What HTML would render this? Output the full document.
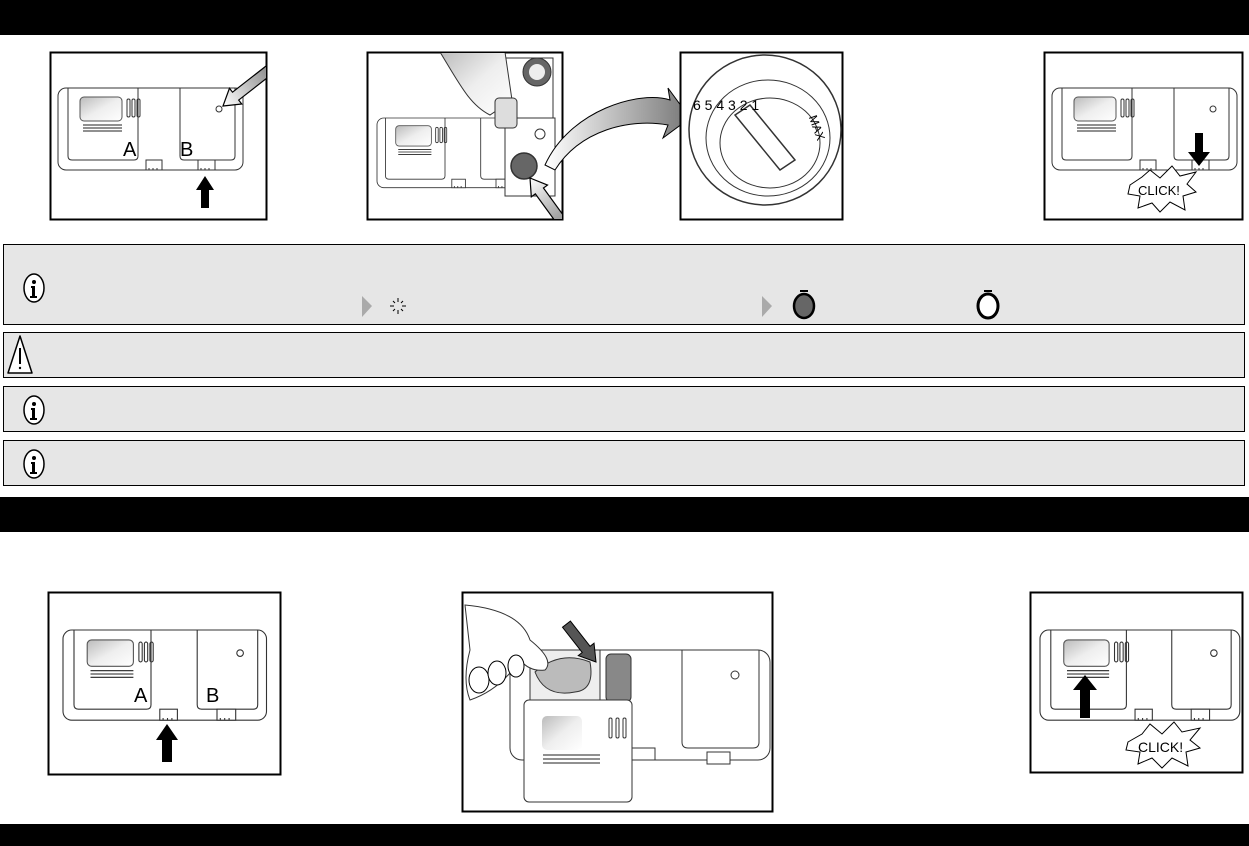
<!DOCTYPE html>
<html><head><meta charset="utf-8"><style>
html,body{margin:0;padding:0;background:#fff;width:1249px;height:846px;overflow:hidden}
svg{display:block}
</style></head><body>
<svg width="1249" height="846" viewBox="0 0 1249 846" xmlns="http://www.w3.org/2000/svg" font-family="Liberation Sans, sans-serif">
<defs>
<linearGradient id="gw" x1="0" y1="0" x2="1" y2="1"><stop offset="0" stop-color="#bbb"/><stop offset="0.5" stop-color="#eee"/><stop offset="1" stop-color="#fff"/></linearGradient>
<linearGradient id="ga" x1="0" y1="0" x2="1" y2="0"><stop offset="0" stop-color="#fff"/><stop offset="1" stop-color="#777"/></linearGradient>
<clipPath id="c1"><rect x="51" y="53" width="215" height="166"/></clipPath>
<clipPath id="c2"><rect x="368" y="53" width="194" height="166"/></clipPath>
<clipPath id="c6"><rect x="463" y="593" width="309" height="218"/></clipPath>
<g id="disp" fill="none" stroke="#333" stroke-width="1">
  <rect x="0" y="0" width="185" height="82" rx="8" fill="#fff"/>
  <path d="M10 0 V68 q0 4 4 4 H76 q4 0 4-4 V0"/>
  <path d="M122 0 V68 q0 4 4 4 H173 q4 0 4-4 V0"/>
  <rect x="22" y="9" width="42" height="24" rx="4" fill="url(#gw)" stroke="#555"/>
  <path d="M25 37 H64 M25 40 H64 M25 43 H64" stroke="#222"/>
  <rect x="69" y="11" width="3" height="18" rx="1.5"/><rect x="74" y="11" width="3" height="18" rx="1.5"/><rect x="79" y="11" width="3" height="18" rx="1.5"/>
  <rect x="88" y="72" width="16" height="10" fill="#fff"/><path d="M91 80v2M95 80v2M99 80v2"/>
  <rect x="140" y="72" width="17" height="10" fill="#fff"/><path d="M143 80v2M147 80v2M151 80v2"/>
  <circle cx="161" cy="21" r="3"/>
</g>
<polygon id="arr" points="0,0 16,-10 16,-5 70,-5 70,5 16,5 16,10" fill="url(#ga)" stroke="#000" stroke-width="1.2"/>
<g id="info"><ellipse cx="0" cy="0" rx="10" ry="14" fill="#fff" stroke="#000" stroke-width="1.5"/><circle cx="0" cy="-6" r="2"/><path d="M-3 -2 H1 V8 H3 V10 H-4 V8 H-2 V0 H-3Z"/></g>
</defs>

<rect x="0" y="0" width="1249" height="35" fill="#000"/>
<rect x="0" y="497" width="1249" height="35" fill="#000"/>
<rect x="0" y="824" width="1249" height="22" fill="#000"/>

<!-- box1 -->
<rect x="50.5" y="52.5" width="216" height="167" fill="#fff" stroke="#000" stroke-width="2"/>
<use href="#disp" x="58" y="88"/>
<text x="123" y="156" font-size="20">A</text><text x="180" y="156" font-size="20">B</text>
<path d="M201 208 V190 H196 L205 176 L214 190 H209 V208Z" fill="#000"/>
<g clip-path="url(#c1)"><use href="#arr" transform="translate(223,106) rotate(-38)"/></g>

<!-- box2 -->
<rect x="367.5" y="52.5" width="195" height="167" fill="#fff" stroke="#000" stroke-width="2"/>
<rect x="500" y="58" width="53" height="70" fill="#fff" stroke="#333"/>
<g transform="translate(377,118) scale(0.85)"><use href="#disp"/></g>
<rect x="505" y="118" width="50" height="78" fill="#fff" stroke="#333"/>
<g clip-path="url(#c2)">
<path d="M440 52 C460 85 470 105 490 115 L512 100 L505 52Z" fill="url(#gw)" stroke="#333"/>
<circle cx="537" cy="72" r="14" fill="#666" stroke="#333"/><circle cx="537" cy="72" r="8" fill="#eee"/>
<rect x="495" y="98" width="22" height="30" rx="4" fill="#ddd" stroke="#333"/>
<circle cx="540" cy="134" r="5" fill="#fff" stroke="#333"/>
<circle cx="524" cy="166" r="13" fill="#666" stroke="#333" stroke-width="1.5"/>
<use href="#arr" transform="translate(530,178) rotate(54)"/>
</g>
<path d="M545 165 C570 110 640 90 670 100 L668 88 L690 118 L663 138 L668 125 C630 118 580 130 555 170Z" fill="url(#ga)" stroke="#000"/>

<!-- box3 -->
<rect x="680.5" y="52.5" width="162" height="167" fill="#fff" stroke="#000" stroke-width="2"/>
<ellipse cx="765" cy="130" rx="76" ry="75" fill="none" stroke="#333" stroke-width="1.5"/>
<ellipse cx="768" cy="138" rx="62" ry="58" fill="none" stroke="#333"/>
<ellipse cx="770" cy="143" rx="50" ry="45" fill="none" stroke="#333"/>
<path d="M735 115 L780 170 L795 160 L750 105Z" fill="#fff" stroke="#333" stroke-width="1.5"/>
<text x="693" y="110" font-size="14">6 5 4 3 2 1</text>
<text x="810" y="125" font-size="12" transform="rotate(70 815 120)">MAX</text>

<!-- box4 -->
<rect x="1044.5" y="52.5" width="198" height="167" fill="#fff" stroke="#000" stroke-width="2"/>
<use href="#disp" x="1052" y="88"/>
<path d="M1195 133 V152 H1188 L1199 166 L1210 152 H1203 V133Z" fill="#000"/>
<path d="M1130 185 L1142 177 L1150 170 L1160 178 L1172 166 L1180 176 L1196 172 L1187 184 L1196 192 L1183 196 L1185 210 L1170 202 L1160 212 L1152 203 L1138 208 L1140 196 L1128 194Z" fill="#fff" stroke="#000"/>
<text x="1138" y="195" font-size="13">CLICK!</text>

<!-- panels -->
<rect x="3.5" y="244.5" width="1241" height="80" fill="#e6e6e6" stroke="#000"/>
<rect x="3.5" y="332.5" width="1241" height="45" fill="#e6e6e6" stroke="#000"/>
<rect x="3.5" y="386.5" width="1241" height="45" fill="#e6e6e6" stroke="#000"/>
<rect x="3.5" y="440.5" width="1241" height="45" fill="#e6e6e6" stroke="#000"/>
<use href="#info" x="34" y="288"/>
<use href="#info" x="34" y="410"/>
<use href="#info" x="34" y="464"/>
<path d="M8 373 L20 336 L32 373Z" fill="#fff" stroke="#000" stroke-width="1.5" stroke-linejoin="round"/>
<path d="M20 348 V364" stroke="#000" stroke-width="2"/><circle cx="20" cy="368" r="1.2"/>
<path d="M362 296 L372 306 L362 317Z" fill="#aaa"/>
<g stroke="#000" stroke-width="1"><path d="M398 298v4M398 310v4M390 306h4M402 306h4M393 301l2 2M403 301l-2 2M393 311l2-2M403 311l-2-2"/></g>
<path d="M762 296 L772 306 L762 317Z" fill="#aaa"/>
<ellipse cx="804" cy="306" rx="10" ry="12" fill="#666" stroke="#000" stroke-width="2.5"/><rect x="800" y="290" width="8" height="2"/>
<ellipse cx="988" cy="306" rx="10" ry="12" fill="#fff" stroke="#000" stroke-width="3"/><rect x="984" y="290" width="8" height="2"/>

<!-- box5 -->
<rect x="48.5" y="592.5" width="232" height="182" fill="#fff" stroke="#000" stroke-width="2"/>
<g transform="translate(63,630) scale(1.1,1.1)"><use href="#disp"/></g>
<text x="134" y="702" font-size="20">A</text><text x="206" y="702" font-size="20">B</text>
<path d="M162 762 V740 H156 L167 724 L178 740 H172 V762Z" fill="#000"/>

<!-- box6 -->
<rect x="462.5" y="592.5" width="310" height="219" fill="#fff" stroke="#000" stroke-width="2"/>
<g clip-path="url(#c6)">
<rect x="510" y="650" width="260" height="110" rx="12" fill="#fff" stroke="#333"/>
<path d="M682 650 V742 q0 6 6 6 H753 q6 0 6-6 V650" fill="none" stroke="#333"/>
<circle cx="735" cy="675" r="4" fill="#fff" stroke="#333"/>
<rect x="606" y="654" width="25" height="48" rx="5" fill="#888" stroke="#333"/>
<rect x="530" y="650" width="70" height="50" fill="#eee" stroke="#333"/>
<rect x="524" y="700" width="108" height="102" rx="5" fill="#fff" stroke="#333"/>
<rect x="542" y="716" width="40" height="34" rx="5" fill="url(#gw)" stroke="none"/>
<path d="M543 755 H600 M543 759 H600 M543 763 H600" stroke="#222"/>
<g fill="none" stroke="#333"><rect x="609" y="718" width="3" height="20" rx="1.5"/><rect x="616" y="718" width="3" height="20" rx="1.5"/><rect x="623" y="718" width="3" height="20" rx="1.5"/></g>
<rect x="632" y="748" width="23" height="12" fill="#fff" stroke="#333"/><rect x="707" y="752" width="23" height="12" fill="#fff" stroke="#333"/>
<path d="M535 672 Q560 650 590 662 Q595 690 575 692 Q545 698 535 672Z" fill="#bbb" stroke="#333"/>
<path d="M465 605 Q520 610 530 640 Q555 660 545 670 Q530 672 520 660 Q500 690 470 700 Q462 680 470 650Z" fill="#fff" stroke="#333"/>
<g fill="#fff" stroke="#000"><ellipse cx="479" cy="680" rx="10" ry="13"/><ellipse cx="497" cy="673" rx="9" ry="12"/><ellipse cx="516" cy="666" rx="8" ry="11"/></g>
<polygon points="0,0 16,-10 16,-5 48,-5 48,5 16,5 16,10" fill="#555" stroke="#000" transform="translate(596,662) rotate(-128)"/>
</g>

<!-- box7 -->
<rect x="1030.5" y="592.5" width="212" height="180" fill="#fff" stroke="#000" stroke-width="2"/>
<g transform="translate(1040,630) scale(1.08,1.1)"><use href="#disp"/></g>
<path d="M1080 718 V690 H1073 L1085 675 L1097 690 H1090 V718Z" fill="#000"/>
<path d="M1128 742 L1142 734 L1150 724 L1162 734 L1174 722 L1182 732 L1200 728 L1190 740 L1200 748 L1186 752 L1188 766 L1172 758 L1162 768 L1152 758 L1138 764 L1140 752 L1126 750Z" fill="#fff" stroke="#000"/>
<text x="1138" y="752" font-size="14">CLICK!</text>
</svg>
</body></html>
